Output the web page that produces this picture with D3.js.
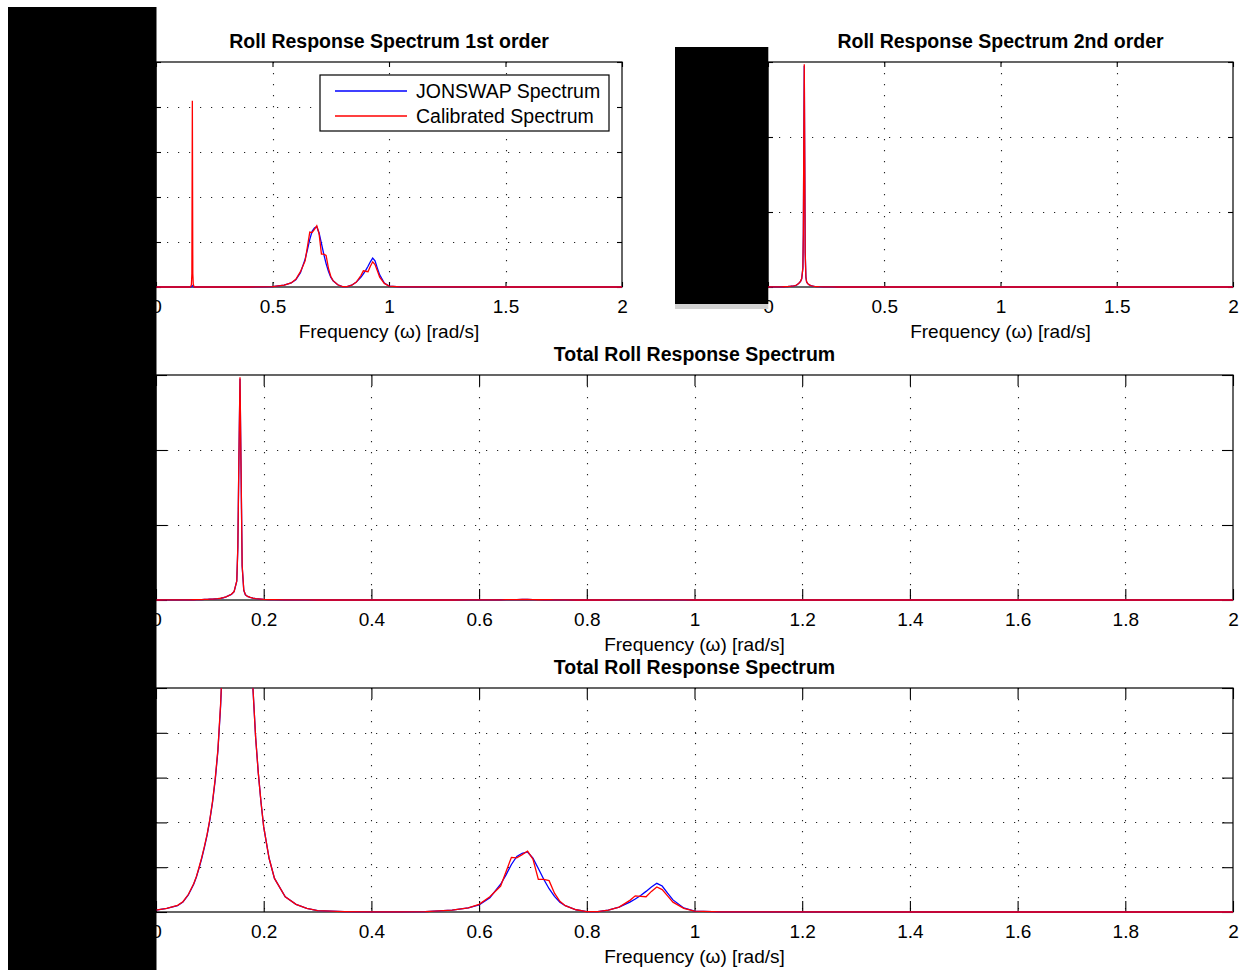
<!DOCTYPE html>
<html>
<head>
<meta charset="utf-8">
<script src="https://cdn.jsdelivr.net/npm/d3@7/dist/d3.min.js"></script>
<style>
  body { margin: 0; background: #fff; }
  text { font-family: "Liberation Sans", Arial, Helvetica, sans-serif; }
</style>
</head>
<body>
<script>

// frequency grid [rad/s] (shared by all series)
var freq = [0, 0.02, 0.04, 0.05, 0.06, 0.07, 0.075, 0.08, 0.085, 0.09,
  0.095, 0.10, 0.105, 0.11, 0.115, 0.12, 0.125, 0.13, 0.135, 0.14,
  0.145, 0.15, 0.152, 0.154, 0.156, 0.158, 0.160, 0.163, 0.166, 0.17,
  0.175, 0.18, 0.185, 0.19, 0.195, 0.20, 0.21, 0.22, 0.24, 0.26,
  0.28, 0.30, 0.35, 0.40, 0.45, 0.50, 0.55, 0.58, 0.60, 0.62,
  0.64, 0.65, 0.66, 0.67, 0.68, 0.69, 0.70, 0.71, 0.72, 0.73,
  0.74, 0.75, 0.76, 0.78, 0.80, 0.82, 0.84, 0.86, 0.88, 0.89,
  0.90, 0.91, 0.92, 0.93, 0.94, 0.95, 0.96, 0.98, 1.00, 1.05,
  1.10, 1.50, 2.00];

// 1st order roll response
var firstJonswap = [0, 0, 0, 0, 0, 0, 0, 0, 0, 0,
  0, 0, 0, 0, 0, 0, 0, 0, 0, 0,
  0, 0.0005, 0.001, 0.002, 0.003, 0.002, 0.001, 0.0005, 0, 0,
  0, 0, 0, 0, 0, 0, 0, 0, 0, 0,
  0, 0, 0, 0, 0.0003, 0.001, 0.004, 0.009, 0.016, 0.032,
  0.062, 0.083, 0.106, 0.124, 0.131, 0.134, 0.120, 0.097, 0.073, 0.052,
  0.035, 0.022, 0.014, 0.005, 0.001, 0.001, 0.004, 0.011, 0.022, 0.029,
  0.037, 0.046, 0.056, 0.064, 0.058, 0.042, 0.027, 0.009, 0.002, 0.0005,
  0.0001, 0, 0];
var firstCalib = [0, 0, 0, 0, 0, 0, 0, 0, 0, 0,
  0, 0, 0, 0, 0, 0, 0, 0, 0, 0,
  0, 0.002, 0.006, 0.03, 0.414, 0.03, 0.006, 0.001, 0, 0,
  0, 0, 0, 0, 0, 0, 0, 0, 0, 0,
  0, 0, 0, 0, 0.0003, 0.001, 0.004, 0.009, 0.017, 0.034,
  0.058, 0.090, 0.122, 0.121, 0.128, 0.136, 0.118, 0.073, 0.073, 0.070,
  0.042, 0.024, 0.014, 0.005, 0.001, 0.001, 0.004, 0.011, 0.026, 0.036,
  0.035, 0.034, 0.046, 0.056, 0.050, 0.036, 0.022, 0.008, 0.002, 0.0005,
  0.0001, 0, 0];

// 2nd order roll response
var secondJonswap = [0.004, 0.008, 0.014, 0.022, 0.038, 0.062, 0.078, 0.098, 0.12, 0.145,
  0.172, 0.205, 0.245, 0.295, 0.36, 0.46, 0.6, 0.85, 1.15, 1.5,
  2.2, 5.0, 14.0, 38.0, 59.0, 34.0, 9.0, 2.6, 1.4, 0.95,
  0.68, 0.50, 0.39, 0.31, 0.245, 0.19, 0.12, 0.075, 0.034, 0.017,
  0.008, 0.003, 0.001, 0.0003, 0, 0, 0, 0, 0, 0,
  0, 0, 0, 0, 0, 0, 0, 0, 0, 0,
  0, 0, 0, 0, 0, 0, 0, 0, 0, 0,
  0, 0, 0, 0, 0, 0, 0, 0, 0, 0,
  0, 0, 0];
var secondCalib = [0.004, 0.008, 0.015, 0.023, 0.039, 0.063, 0.079, 0.1, 0.122, 0.147,
  0.174, 0.207, 0.247, 0.298, 0.363, 0.465, 0.61, 0.86, 1.17, 1.52,
  2.25, 5.1, 14.3, 38.5, 59.4, 34.5, 9.2, 2.65, 1.42, 0.96,
  0.69, 0.50, 0.39, 0.31, 0.245, 0.19, 0.12, 0.075, 0.034, 0.017,
  0.008, 0.003, 0.001, 0.0003, 0, 0, 0, 0, 0, 0,
  0, 0, 0, 0, 0, 0, 0, 0, 0, 0,
  0, 0, 0, 0, 0, 0, 0, 0, 0, 0,
  0, 0, 0, 0, 0, 0, 0, 0, 0, 0,
  0, 0, 0];

// total roll response
var totalJonswap = [0.004, 0.008, 0.014, 0.022, 0.038, 0.062, 0.078, 0.098, 0.12, 0.145,
  0.172, 0.205, 0.245, 0.295, 0.36, 0.46, 0.6, 0.85, 1.15, 1.5,
  2.2, 5.0, 14.0, 38.0, 59.0, 34.0, 9.0, 2.6, 1.4, 0.95,
  0.68, 0.50, 0.39, 0.31, 0.245, 0.19, 0.12, 0.075, 0.034, 0.017,
  0.008, 0.003, 0.001, 0.0003, 0.0003, 0.001, 0.004, 0.009, 0.016, 0.032,
  0.062, 0.083, 0.106, 0.124, 0.131, 0.134, 0.120, 0.097, 0.073, 0.052,
  0.035, 0.022, 0.014, 0.005, 0.001, 0.001, 0.004, 0.011, 0.022, 0.029,
  0.037, 0.046, 0.056, 0.064, 0.058, 0.042, 0.027, 0.009, 0.002, 0.0005,
  0.0001, 0, 0];
var totalCalib = [0.004, 0.008, 0.015, 0.023, 0.039, 0.063, 0.079, 0.1, 0.122, 0.147,
  0.174, 0.207, 0.247, 0.298, 0.363, 0.465, 0.61, 0.86, 1.17, 1.52,
  2.25, 5.1, 14.3, 38.5, 59.4, 34.5, 9.2, 2.65, 1.42, 0.96,
  0.69, 0.50, 0.39, 0.31, 0.245, 0.19, 0.12, 0.075, 0.034, 0.017,
  0.008, 0.003, 0.001, 0.0003, 0.0003, 0.001, 0.004, 0.009, 0.017, 0.034,
  0.058, 0.090, 0.122, 0.121, 0.128, 0.136, 0.118, 0.073, 0.073, 0.070,
  0.042, 0.024, 0.014, 0.005, 0.001, 0.001, 0.004, 0.011, 0.026, 0.036,
  0.035, 0.034, 0.046, 0.056, 0.050, 0.036, 0.022, 0.008, 0.002, 0.0005,
  0.0001, 0, 0];

// tick values
var xTicksHalf = [0, 0.5, 1, 1.5, 2];
var xTicksFifth = [0, 0.2, 0.4, 0.6, 0.8, 1, 1.2, 1.4, 1.6, 1.8, 2];
var yTicksSmall = [0, 0.1, 0.2, 0.3, 0.4, 0.5];
var yTicksLarge = [0, 20, 40, 60];

var legendNames = ["JONSWAP Spectrum", "Calibrated Spectrum"];
var xLabel = "Frequency (\u03c9) [rad/s]";

var width = 1245, height = 970;
var font = "'Liberation Sans', Arial, Helvetica, sans-serif";

var svg = d3.select("body").append("svg")
    .attr("width", width)
    .attr("height", height);

svg.append("rect").attr("width", width).attr("height", height).attr("fill", "#fff");

var panels = [
  {id: "p1", x: 156, y: 62, w: 466, h: 225, tick: 5, title: "Roll Response Spectrum 1st order",
   xt: xTicksHalf, yt: yTicksSmall, blue: firstJonswap, red: firstCalib, legend: true},
  {id: "p2", x: 768, y: 62, w: 465, h: 225, tick: 5, title: "Roll Response Spectrum 2nd order",
   xt: xTicksHalf, yt: yTicksLarge, blue: secondJonswap, red: secondCalib},
  {id: "p3", x: 156, y: 375, w: 1077, h: 225, tick: 11, title: "Total Roll Response Spectrum",
   xt: xTicksFifth, yt: yTicksLarge, blue: totalJonswap, red: totalCalib},
  {id: "p4", x: 156, y: 688, w: 1077, h: 224, tick: 11, title: "Total Roll Response Spectrum",
   xt: xTicksFifth, yt: yTicksSmall, blue: totalJonswap, red: totalCalib}
];

panels.forEach(drawPanel);

function drawPanel(p) {
  var g = svg.append("g").attr("transform", "translate(" + p.x + "," + p.y + ")");

  var x = d3.scaleLinear().domain([0, 2]).range([0, p.w]);
  var y = d3.scaleLinear().domain([p.yt[0], p.yt[p.yt.length - 1]]).range([p.h, 0]);

  // dotted grid
  g.selectAll(".vgrid").data(p.xt.slice(1, -1)).enter().append("line")
    .attr("x1", function(d) { return Math.round(x(d)) + 0.5; })
    .attr("x2", function(d) { return Math.round(x(d)) + 0.5; })
    .attr("y1", 0).attr("y2", p.h)
    .attr("stroke", "#222").attr("stroke-width", 1.1)
    .attr("stroke-dasharray", "1.2,9.8");
  g.selectAll(".hgrid").data(p.yt.slice(1, -1)).enter().append("line")
    .attr("y1", function(d) { return Math.round(y(d)) + 0.5; })
    .attr("y2", function(d) { return Math.round(y(d)) + 0.5; })
    .attr("x1", 0).attr("x2", p.w)
    .attr("stroke", "#222").attr("stroke-width", 1.1)
    .attr("stroke-dasharray", "1.2,9.8");

  // box
  g.append("rect")
    .attr("x", 0).attr("y", 0).attr("width", p.w).attr("height", p.h)
    .attr("fill", "none").attr("stroke", "#000").attr("stroke-width", 1.2);

  // axes, ticks pointing inwards
  var bottom = g.append("g").attr("transform", "translate(0," + p.h + ")")
    .call(d3.axisBottom(x).tickValues(p.xt).tickFormat(d3.format("~g"))
      .tickSizeInner(-p.tick).tickSizeOuter(0).tickPadding(12.5));
  var top = g.append("g")
    .call(d3.axisTop(x).tickValues(p.xt).tickFormat("")
      .tickSizeInner(-p.tick).tickSizeOuter(0));
  var left = g.append("g")
    .call(d3.axisLeft(y).tickValues(p.yt).tickFormat(d3.format("~g"))
      .tickSizeInner(-p.tick).tickSizeOuter(0).tickPadding(8));
  var right = g.append("g").attr("transform", "translate(" + p.w + ",0)")
    .call(d3.axisRight(y).tickValues(p.yt).tickFormat("")
      .tickSizeInner(-p.tick).tickSizeOuter(0));
  [bottom, top, left, right].forEach(function(a) {
    a.select(".domain").remove();
    a.selectAll("line").attr("stroke", "#000").attr("stroke-width", 1.1);
    a.attr("font-size", 19).attr("font-family", font);
    a.selectAll("text").attr("fill", "#000");
  });

  // data
  var clipId = "clip-" + p.id;
  g.append("clipPath").attr("id", clipId)
    .append("rect").attr("x", -2).attr("y", 0).attr("width", p.w + 4).attr("height", p.h + 2);

  var line = d3.line()
    .x(function(d, i) { return x(freq[i]); })
    .y(function(d) { return y(d); });

  var plot = g.append("g").attr("clip-path", "url(#" + clipId + ")");
  plot.append("path").datum(p.blue)
    .attr("d", line).attr("fill", "none")
    .attr("stroke", "#0000ff").attr("stroke-width", 1.3);
  plot.append("path").datum(p.red)
    .attr("d", line).attr("fill", "none")
    .attr("stroke", "#ff0000").attr("stroke-width", 1.3);

  // title and x label
  g.append("text")
    .attr("x", p.w / 2).attr("y", -14)
    .attr("text-anchor", "middle")
    .attr("font-size", 19.5).attr("font-weight", "bold")
    .text(p.title);
  g.append("text")
    .attr("x", p.w / 2).attr("y", p.h + 51)
    .attr("text-anchor", "middle")
    .attr("font-size", 19)
    .text(xLabel);

  if (p.legend) {
    var lg = svg.append("g").attr("transform", "translate(320,75)");
    lg.append("rect").attr("width", 289).attr("height", 56)
      .attr("fill", "#fff").attr("stroke", "#000").attr("stroke-width", 1.2);
    var colors = ["#0000ff", "#ff0000"];
    legendNames.forEach(function(name, i) {
      lg.append("line")
        .attr("x1", 15).attr("x2", 87)
        .attr("y1", 16 + i * 25).attr("y2", 16 + i * 25)
        .attr("stroke", colors[i]).attr("stroke-width", 1.3);
      lg.append("text")
        .attr("x", 96).attr("y", 22.5 + i * 25)
        .attr("font-size", 19.5)
        .text(name);
    });
  }
}

// redaction boxes that sit on top of the figure
svg.append("rect").attr("x", 8).attr("y", 7).attr("width", 148.5).attr("height", 963).attr("fill", "#000");
svg.append("rect").attr("x", 675).attr("y", 304).attr("width", 93.3).attr("height", 5).attr("fill", "#d2d2d2");
svg.append("rect").attr("x", 675).attr("y", 47).attr("width", 93.3).attr("height", 257).attr("fill", "#000");

</script>
</body>
</html>
